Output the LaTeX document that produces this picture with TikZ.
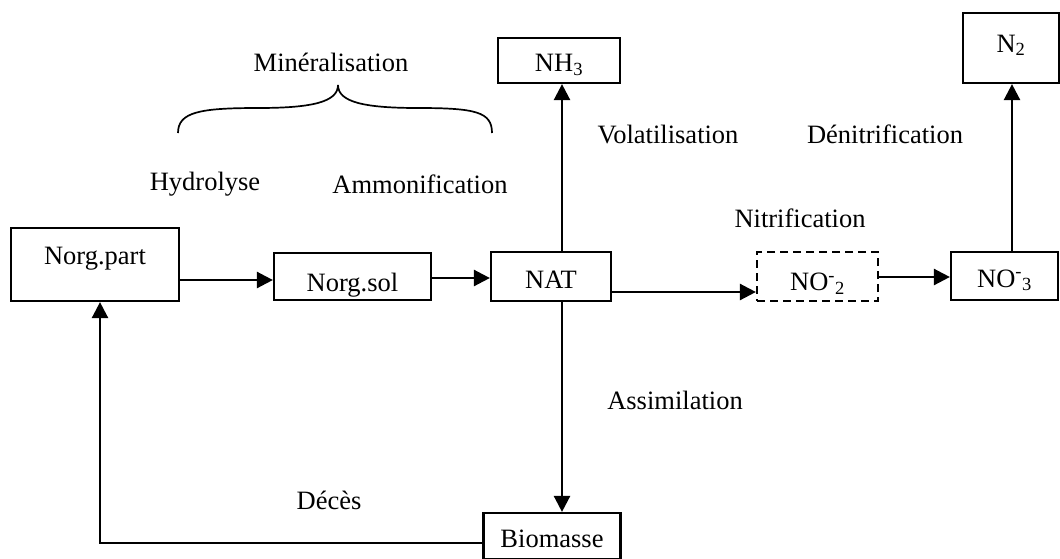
\documentclass[tikz,border=0pt]{standalone}
\usepackage{fontspec}
\setmainfont{Liberation Serif}
\usetikzlibrary{arrows.meta}
\begin{document}
\begin{tikzpicture}[x=1pt,y=-1pt,
  font=\fontsize{26.5}{30}\selectfont,
  box/.style={draw,line width=2.2pt,inner sep=0pt,minimum width=#1,
    text height=18pt,text depth=6pt},
  dbox/.style={box=#1,dash pattern=on 8pt off 5pt},
  lbl/.style={inner sep=0pt},
  flow/.style={line width=2.5pt,-{Triangle[length=16pt,width=16pt]}}]
\useasboundingbox (0,0) rectangle (1060,558);
% compartments
\node[box=168pt,minimum height=73pt] (part) at (95,264.5) {\raisebox{6pt}{Norg.part}};
\node[box=157pt,minimum height=47pt] (sol) at (352.5,276.5) {\raisebox{-9pt}{Norg.sol}};
\node[box=120pt,minimum height=49pt] (nat) at (551,276.5) {\raisebox{-6pt}{NAT}};
\node[dbox=121pt,minimum height=49pt] (no2) at (817.5,276.5) {\raisebox{-8pt}{NO\textsuperscript{-}\textsubscript{2}}};
\node[box=107pt,minimum height=48pt] (no3) at (1004.5,276) {\raisebox{-5pt}{NO\textsuperscript{-}\textsubscript{3}}};
\node[box=96pt,minimum height=70pt] (n2) at (1011,48) {\raisebox{2pt}{N\textsubscript{2}}};
\node[box=122pt,minimum height=45pt] (nh3) at (559,60.5) {\raisebox{-5pt}{NH\textsubscript{3}}};
\node[box=137pt,minimum height=46pt] (bio) at (552,536) {\raisebox{-5pt}{Biomasse}};
% process labels
\node[lbl] (mine) at (331,62) {Minéralisation};
\node[lbl] (hyd) at (205,184) {Hydrolyse};
\node[lbl] (amm) at (420,184) {Ammonification};
\node[lbl] (vol) at (668,134) {Volatilisation};
\node[lbl] (den) at (885,134) {Dénitrification};
\node[lbl] (nit) at (800,218) {Nitrification};
\node[lbl] (ass) at (675,400) {Assimilation};
\node[lbl] (dec) at (329,500) {Décès};
% brace grouping hydrolysis and ammonification
\draw[line width=1.7pt] (178,133) .. controls (178,112) and (200,108) .. (258,108)
  .. controls (312,108) and (338,102) .. (338,85)
  .. controls (338,102) and (364,108) .. (418,108)
  .. controls (476,108) and (492,112) .. (492,133);
% fluxes
\draw[flow] (part.east |- 0,280) -- (sol.west |- 0,280);
\draw[flow] (sol.east |- 0,278) -- (nat.west |- 0,278);
\draw[flow] (nat.east |- 0,292) -- (no2.west |- 0,292);
\draw[flow] (no2.east |- 0,277) -- (no3.west |- 0,277);
\draw[flow] (no3.north -| 1012,0) -- (n2.south -| 1012,0);
\draw[flow] (nat.north -| 562,0) -- (nh3.south -| 562,0);
\draw[flow] (nat.south -| 562,0) -- (bio.north -| 562,0);
\draw[flow] (bio.west |- 0,543) -| (part.south -| 100,0);
\end{tikzpicture}
\end{document}
